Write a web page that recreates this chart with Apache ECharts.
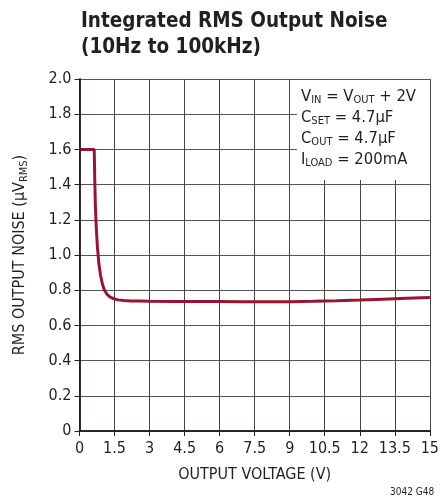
<!DOCTYPE html>
<html><head><meta charset="utf-8">
<script src="https://cdn.jsdelivr.net/npm/echarts@6/dist/echarts.min.js"></script>
<style>html,body{margin:0;padding:0;background:#fff}#c{width:442px;height:500px}</style>
</head><body><div id="c"></div>
<script>
var voltage = [0, 0.63, 0.65, 0.68, 0.72, 0.77, 0.83, 0.9, 0.98, 1.07, 1.17, 1.3, 1.45, 1.65, 1.9, 2.2, 2.6, 3, 4, 5, 6, 7, 8, 9, 10, 11, 12, 13, 14, 15];
var noise   = [1.6, 1.6, 1.45, 1.28, 1.15, 1.04, 0.95, 0.885, 0.835, 0.8, 0.778, 0.762, 0.752, 0.745, 0.741, 0.739, 0.738, 0.737, 0.736, 0.736, 0.736, 0.735, 0.735, 0.735, 0.737, 0.74, 0.744, 0.749, 0.754, 0.758];
var xTicks = ['0','1.5','3','4.5','6','7.5','9','10.5','12','13.5','15'];
var yTicks = ['0','0.2','0.4','0.6','0.8','1.0','1.2','1.4','1.6','1.8','2.0'];
var FONT = '"DejaVu Sans Condensed","Liberation Sans Narrow",sans-serif';
var chart = echarts.init(document.getElementById('c'));
var pts = voltage.map(function(v,i){return [v, noise[i]];});
chart.setOption({
  animation:false,
  textStyle:{fontFamily:FONT},
  title:{text:'Integrated RMS Output Noise\n(10Hz to 100kHz)', left:76, top:4,
    textStyle:{fontFamily:FONT, fontWeight:'bold', fontSize:20.5, lineHeight:26, color:'#231f20'}},
  grid:{left:79.5, right:11, top:79, bottom:69, containLabel:false},
  xAxis:[{type:'value', min:0, max:15, interval:1.5,
    axisLine:{show:true, lineStyle:{color:'#231f20', width:1.5}},
    axisTick:{show:false},
    axisLabel:{fontSize:16, color:'#231f20', margin:10, formatter:function(v){return xTicks[Math.round(v/1.5)];}},
    splitLine:{show:true, lineStyle:{color:'#444', width:1}},
    name:'OUTPUT VOLTAGE (V)', nameLocation:'middle', nameGap:36,
    nameTextStyle:{fontSize:16, color:'#231f20', fontFamily:FONT}, z:0},
   {type:'value', position:'top', min:0, max:15, interval:1.5,
    axisLine:{show:true, lineStyle:{color:'#231f20', width:1.5}},
    axisTick:{show:true, inside:true, length:5, lineStyle:{color:'#231f20'}},
    axisLabel:{show:false}, splitLine:{show:false}, z:5}],
  yAxis:[{type:'value', min:0, max:2, interval:0.2,
    axisLine:{show:true, lineStyle:{color:'#231f20', width:1.5}},
    axisTick:{show:false},
    axisLabel:{fontSize:16, color:'#231f20', margin:8, formatter:function(v){return yTicks[Math.round(v/0.2)];}},
    splitLine:{show:true, lineStyle:{color:'#555', width:1}},
    name:'{a|RMS OUTPUT NOISE (µV}{s|RMS}{a|)}', nameLocation:'middle', nameGap:50,
    nameTextStyle:{rich:{a:{fontSize:16, color:'#231f20', fontFamily:FONT}, s:{fontSize:11, color:'#231f20', fontFamily:FONT, padding:[8,0,0,0]}}}, z:0},
   {type:'value', position:'right', min:0, max:2, interval:0.2,
    axisLine:{show:true, lineStyle:{color:'#231f20', width:1.5}},
    axisTick:{show:true, inside:true, length:5, lineStyle:{color:'#231f20'}},
    axisLabel:{show:false}, splitLine:{show:false}, z:5}],
  graphic:[
    {type:'rect', shape:{x:297, y:80, width:133, height:100}, style:{fill:'#fff'}, z:2},
    {type:'text', left:301, top:87, z:3, style:{
      text:'{a|V}{s|IN}{a| = V}{s|OUT}{a| + 2V}\n{a|C}{s|SET}{a| = 4.7µF}\n{a|C}{s|OUT}{a| = 4.7µF}\n{a|I}{s|LOAD}{a| = 200mA}',
      rich:{a:{fontSize:16.5, fontFamily:FONT, fill:'#231f20', lineHeight:21}, s:{fontSize:11, fontFamily:FONT, fill:'#231f20', padding:[8,0,0,0], lineHeight:21}}}},
    {type:'text', left:390, top:487, z:3, style:{text:'3042 G48', fontSize:10, fontFamily:FONT, fill:'#231f20'}}
  ],
  series:[{type:'line', data:pts, showSymbol:false, smooth:false,
    lineStyle:{color:'#9a1431', width:3}, z:4}]
});
</script></body></html>
